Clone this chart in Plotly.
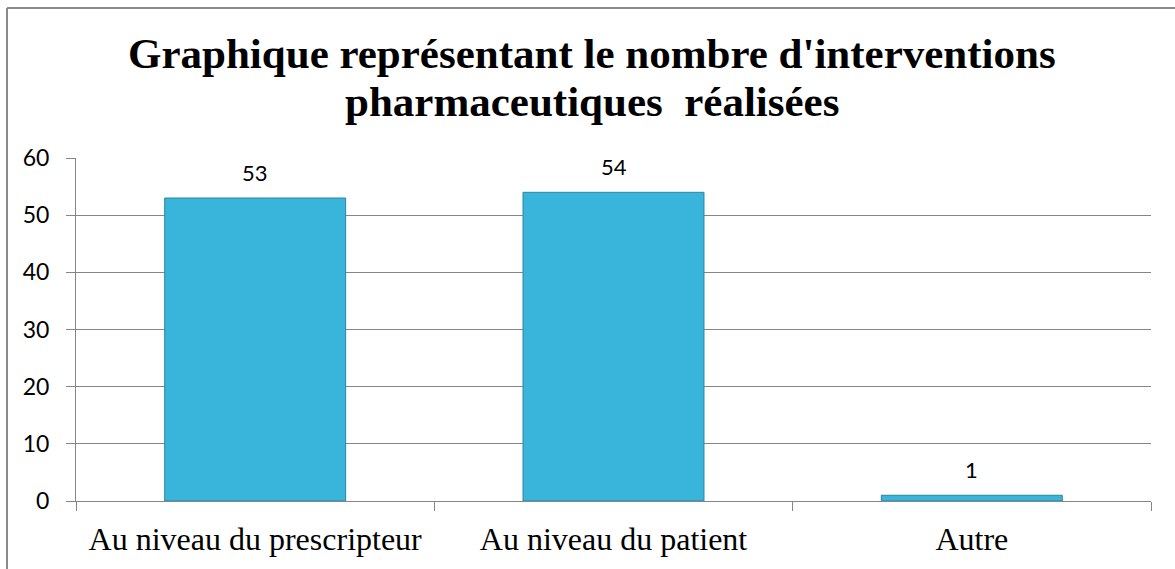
import plotly.graph_objects as go

categories = ["Au niveau du prescripteur", "Au niveau du patient", "Autre"]
values = [53, 54, 1]
y_ticks = [0, 10, 20, 30, 40, 50, 60]

title_lines = ["Graphique représentant le nombre d'interventions",
               "pharmaceutiques  réalisées"]

W, H = 1175, 569
ml, mr, mt, mb = 76, 24, 158, 66
pw, ph = W - ml - mr, H - mt - mb

def px_x(px):
    return (px - ml) / pw

def px_y(py):
    return (H - mb - py) / ph

fig = go.Figure()
fig.add_trace(go.Bar(
    x=categories, y=values,
    marker=dict(color="#39B4DA", line=dict(color="#2A86A3", width=1)),
    width=0.505,
    hoverinfo="x+y",
))

label_font = dict(family="Lato, Open Sans, sans-serif", size=22, color="#000")
for c, v in zip(categories, values):
    fig.add_annotation(x=c, y=v, text=str(v), showarrow=False,
                       yanchor="middle", yshift=26, font=label_font)

title_font = dict(family="Liberation Serif, Times New Roman, serif", size=43, color="#000")
for line, baseline in zip(title_lines, [68, 116]):
    fig.add_annotation(xref="paper", yref="paper", x=px_x(592), y=px_y(baseline - 15),
                       text="<b>" + line + "</b>", showarrow=False,
                       xanchor="center", yanchor="middle", font=title_font)

# outer chart border (top and left visible)
x0 = px_x(7)
y1 = px_y(7)
fig.add_shape(type="line", xref="paper", yref="paper", x0=x0, x1=1.2, y0=y1, y1=y1,
              line=dict(color="#8A8A8A", width=2))
fig.add_shape(type="line", xref="paper", yref="paper", x0=x0, x1=x0, y0=-0.5, y1=y1,
              line=dict(color="#8A8A8A", width=2))

fig.update_layout(
    width=W, height=H,
    margin=dict(l=ml, r=mr, t=mt, b=mb),
    paper_bgcolor="white", plot_bgcolor="white",
    showlegend=False,
    xaxis=dict(
        type="category",
        showline=True, linecolor="#868686", linewidth=1,
        ticks="outside", ticklen=9, tickcolor="#868686", tickson="boundaries",
        showgrid=False,
        ticklabelstandoff=10,
        tickfont=dict(family="Liberation Serif, Times New Roman, serif", size=32, color="#000"),
        range=[-0.5, 2.5],
    ),
    yaxis=dict(
        range=[0, 60], tickvals=y_ticks,
        showline=True, linecolor="#868686", linewidth=1,
        ticks="outside", ticklen=9, tickcolor="#868686",
        showgrid=True, gridcolor="#868686", gridwidth=1,
        zeroline=False,
        ticklabelstandoff=12,
        tickfont=dict(family="Lato, Open Sans, sans-serif", size=23, color="#000"),
    ),
)

fig.write_html("out.html", config={"displayModeBar": False},
               post_script="document.body.style.margin='0';")
